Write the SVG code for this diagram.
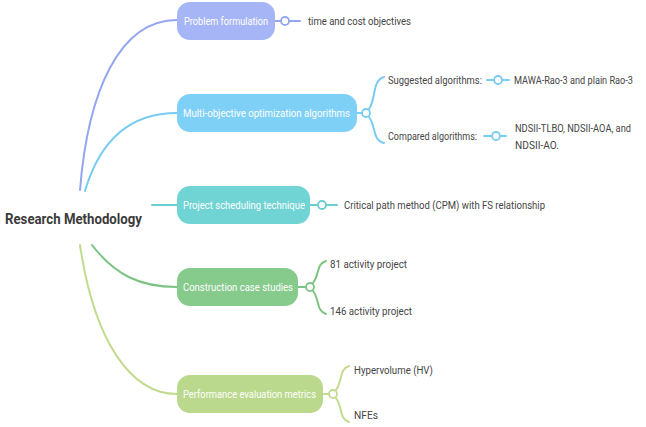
<svg xmlns="http://www.w3.org/2000/svg" width="646" height="427" viewBox="0 0 646 427">
  <style>
    .root { font-family: Roboto, "Liberation Sans", sans-serif; font-weight: 700; font-size: 15px; fill: #3b3b3b; }
    .topic { font-family: Roboto, "Liberation Sans", sans-serif; font-size: 11.5px; fill: #ffffff; }
    .leaf { font-family: Roboto, "Liberation Sans", sans-serif; font-size: 11px; fill: #454545; }
    .edge-leaf { font-size: 10.5px; }
    .tight-leaf { font-size: 10px; }
    .link { fill: none; stroke-width: 2; stroke-linecap: round; }
    .knot { fill: #ffffff; stroke-width: 1.8; }
    .c1 { stroke: #95a6f0; }
    .c2 { stroke: #7acbf1; }
    .c3 { stroke: #69cece; }
    .c4 { stroke: #7cc383; }
    .c5 { stroke: #c3db8f; }
  </style>

  <rect width="646" height="427" fill="#ffffff"/>

  <!-- connectors from the central topic and between topics and their details -->
  <g id="connectors">
    <path class="link c1" d="M80,190 C88,90 120,20 177,20"/>
    <path class="link c2" d="M85,191 C100,140 130,113 177,113"/>
    <path class="link c3" d="M152,205 L177,205"/>
    <path class="link c4" d="M92,245 C115,275 140,287 177,287"/>
    <path class="link c5" d="M80,245 C94,340 130,394 177,394"/>

    <!-- Problem formulation -->
    <path class="link c1" d="M275,21 L281,21 M289,21 L300,21"/>
    <circle class="knot c1" cx="285" cy="21" r="4"/>

    <!-- Multi-objective fork -->
    <path class="link c2" d="M357,113 L362,113"/>
    <path class="link c2" d="M369,109 C376,100 372,80 384,77"/>
    <path class="link c2" d="M369,117 C376,126 372,140 384,143"/>
    <circle class="knot c2" cx="366" cy="113" r="4"/>
    <path class="link c2" d="M487,80 L494,80 M502,80 L509,80"/>
    <circle class="knot c2" cx="498" cy="80" r="4"/>
    <path class="link c2" d="M484,136 L492,136 M500,136 L506,136"/>
    <circle class="knot c2" cx="496" cy="136" r="4"/>

    <!-- Project scheduling -->
    <path class="link c3" d="M310,205 L318,205 M326,205 L337,205"/>
    <circle class="knot c3" cx="322" cy="205" r="4"/>

    <!-- Construction fork -->
    <path class="link c4" d="M298,287 L306,287"/>
    <path class="link c4" d="M313,283 C320,274 316,264 326,261"/>
    <path class="link c4" d="M313,291 C320,300 316,311 326,314"/>
    <circle class="knot c4" cx="310" cy="287" r="4"/>

    <!-- Performance fork -->
    <path class="link c5" d="M323,394 L329,394"/>
    <path class="link c5" d="M336,390 C343,380 339,369 349,366"/>
    <path class="link c5" d="M336,398 C343,408 339,419 349,422"/>
    <circle class="knot c5" cx="333" cy="394" r="4"/>
  </g>

  <g id="root">
    <text class="root" x="5" y="224" textLength="137" lengthAdjust="spacingAndGlyphs">Research Methodology</text>
  </g>

  <g id="problem-formulation">
    <rect x="177" y="2" width="98" height="38" rx="13" fill="#a6b5f6"/>
    <text class="topic" x="184" y="25" textLength="84" lengthAdjust="spacingAndGlyphs">Problem formulation</text>
  </g>
  <g id="time-cost">
    <text class="leaf" x="308" y="25" textLength="103" lengthAdjust="spacingAndGlyphs">time and cost objectives</text>
  </g>

  <g id="multi-objective">
    <rect x="177" y="94" width="180" height="38" rx="13" fill="#7ed0f6"/>
    <text class="topic" x="183" y="117" textLength="167" lengthAdjust="spacingAndGlyphs">Multi-objective optimization algorithms</text>
  </g>
  <g id="suggested">
    <text class="leaf" x="388" y="84" textLength="94" lengthAdjust="spacingAndGlyphs">Suggested algorithms:</text>
  </g>
  <g id="suggested-list">
    <text class="leaf tight-leaf" x="514" y="84" textLength="119" lengthAdjust="spacingAndGlyphs">MAWA-Rao-3 and plain Rao-3</text>
  </g>
  <g id="compared">
    <text class="leaf" x="388" y="140" textLength="89" lengthAdjust="spacingAndGlyphs">Compared algorithms:</text>
  </g>
  <g id="compared-list">
    <text class="leaf edge-leaf" x="515" y="132" textLength="116" lengthAdjust="spacingAndGlyphs">NDSII-TLBO, NDSII-AOA, and</text>
    <text class="leaf edge-leaf" x="515" y="149" textLength="44" lengthAdjust="spacingAndGlyphs">NDSII-AO.</text>
  </g>

  <g id="project-scheduling">
    <rect x="177" y="186" width="133" height="38" rx="13" fill="#70d3d4"/>
    <text class="topic" x="183" y="209" textLength="122" lengthAdjust="spacingAndGlyphs">Project scheduling technique</text>
  </g>
  <g id="cpm">
    <text class="leaf" x="344" y="209" textLength="201" lengthAdjust="spacingAndGlyphs">Critical path method (CPM) with FS relationship</text>
  </g>

  <g id="case-studies">
    <rect x="177" y="268" width="121" height="38" rx="13" fill="#86ca8c"/>
    <text class="topic" x="183" y="291" textLength="110" lengthAdjust="spacingAndGlyphs">Construction case studies</text>
  </g>
  <g id="case-81">
    <text class="leaf" x="330" y="268" textLength="77" lengthAdjust="spacingAndGlyphs">81 activity project</text>
  </g>
  <g id="case-146">
    <text class="leaf" x="330" y="315" textLength="82" lengthAdjust="spacingAndGlyphs">146 activity project</text>
  </g>

  <g id="metrics">
    <rect x="177" y="375" width="146" height="38" rx="13" fill="#bad98c"/>
    <text class="topic" x="183" y="398" textLength="133" lengthAdjust="spacingAndGlyphs">Performance evaluation metrics</text>
  </g>
  <g id="hv">
    <text class="leaf" x="354" y="374" textLength="79" lengthAdjust="spacingAndGlyphs">Hypervolume (HV)</text>
  </g>
  <g id="nfes">
    <text class="leaf" x="354" y="419" textLength="24" lengthAdjust="spacingAndGlyphs">NFEs</text>
  </g>
</svg>
